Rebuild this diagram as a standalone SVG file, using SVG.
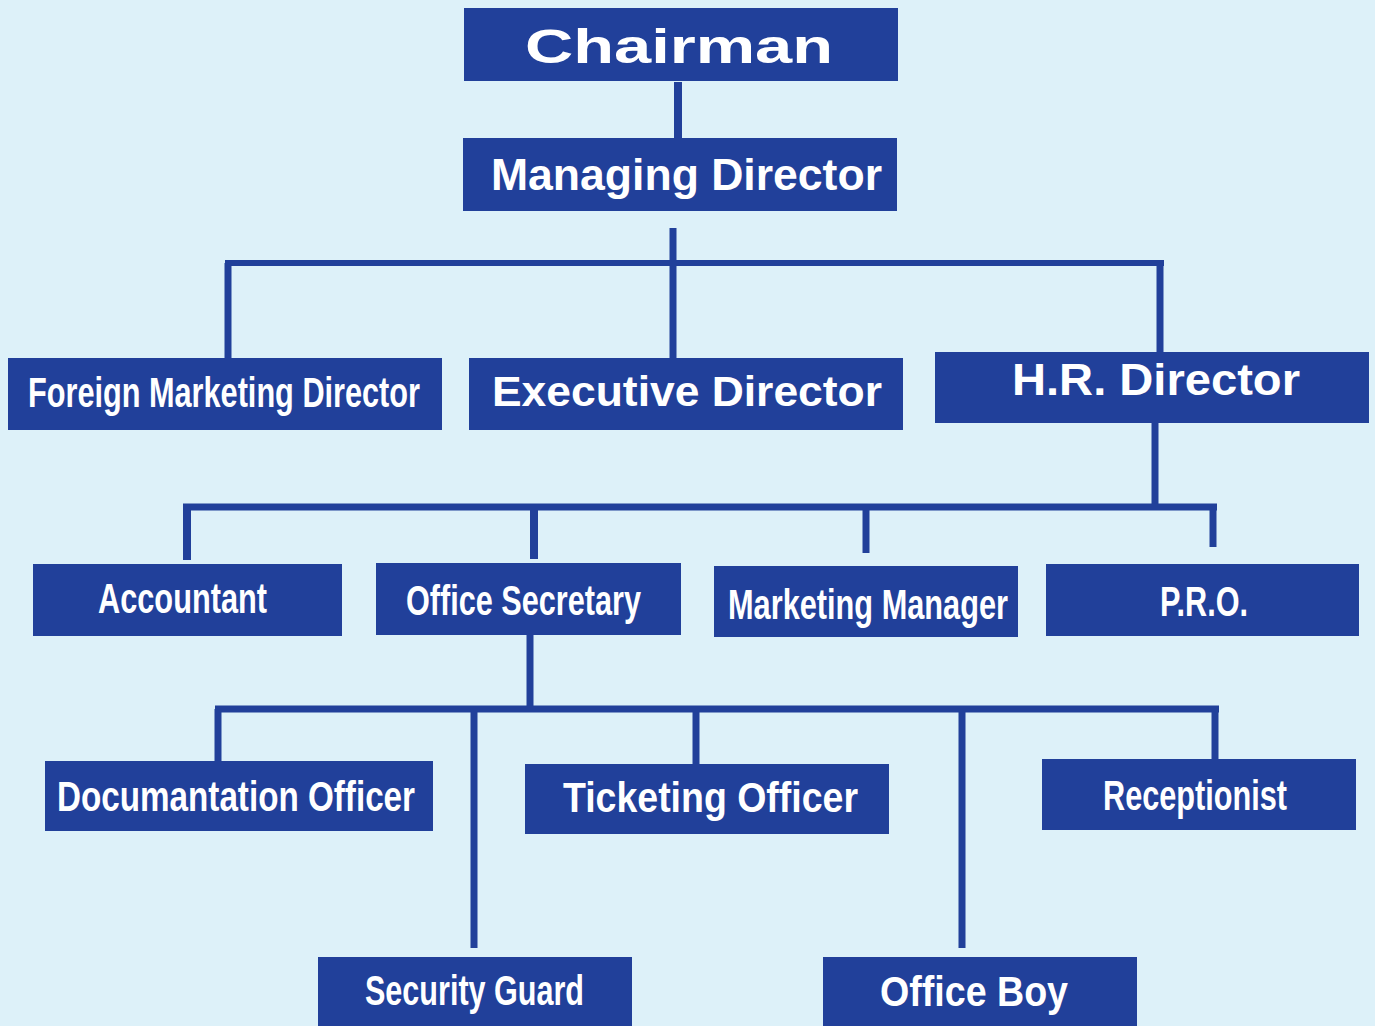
<svg xmlns="http://www.w3.org/2000/svg" width="1375" height="1026" viewBox="0 0 1375 1026">
<style>
.box{fill:#21409a}
.t{fill:#ffffff;font-family:"Liberation Sans",Arial,sans-serif;font-weight:bold}
.c{stroke:#21409a;fill:none;stroke-linecap:butt}
</style>
<rect x="0" y="0" width="1375" height="1026" fill="#ddf1f9"/>
<g id="connectors" class="c">
<line x1="678" y1="82" x2="678" y2="139" stroke-width="8"/>
<line x1="673" y1="228" x2="673" y2="358" stroke-width="7"/>
<line x1="225" y1="263" x2="1164" y2="263" stroke-width="6"/>
<line x1="228" y1="263" x2="228" y2="358" stroke-width="7"/>
<line x1="1160" y1="263" x2="1160" y2="352" stroke-width="7"/>
<line x1="1155" y1="423" x2="1155" y2="507" stroke-width="7"/>
<line x1="183" y1="507" x2="1217" y2="507" stroke-width="7"/>
<line x1="187" y1="507" x2="187" y2="560" stroke-width="8"/>
<line x1="534" y1="507" x2="534" y2="559" stroke-width="8"/>
<line x1="866" y1="507" x2="866" y2="553" stroke-width="7"/>
<line x1="1213" y1="507" x2="1213" y2="547" stroke-width="7"/>
<line x1="530" y1="635" x2="530" y2="709" stroke-width="7"/>
<line x1="215" y1="709" x2="1219" y2="709" stroke-width="7"/>
<line x1="218" y1="709" x2="218" y2="761" stroke-width="7"/>
<line x1="474" y1="709" x2="474" y2="948" stroke-width="7"/>
<line x1="696" y1="709" x2="696" y2="764" stroke-width="7"/>
<line x1="962" y1="709" x2="962" y2="948" stroke-width="7"/>
<line x1="1215" y1="709" x2="1215" y2="759" stroke-width="7"/>
</g>
<g id="chairman"><rect class="box" x="464" y="8" width="434" height="73"/><text class="t" x="525" y="63" font-size="48" textLength="308" lengthAdjust="spacingAndGlyphs">Chairman</text></g>
<g id="managing-director"><rect class="box" x="463" y="138" width="434" height="73"/><text class="t" x="491" y="190" font-size="44" textLength="391" lengthAdjust="spacingAndGlyphs">Managing Director</text></g>
<g id="foreign-marketing-director"><rect class="box" x="8" y="358" width="434" height="72"/><text class="t" x="0" y="0" transform="translate(28,407) scale(0.73,1)" font-size="42" textLength="537" lengthAdjust="spacingAndGlyphs">Foreign Marketing Director</text></g>
<g id="executive-director"><rect class="box" x="469" y="358" width="434" height="72"/><text class="t" x="492" y="406" font-size="43" textLength="390" lengthAdjust="spacingAndGlyphs">Executive Director</text></g>
<g id="hr-director"><rect class="box" x="935" y="352" width="434" height="71"/><text class="t" x="1012" y="395" font-size="44" textLength="288" lengthAdjust="spacingAndGlyphs">H.R. Director</text></g>
<g id="accountant"><rect class="box" x="33" y="564" width="309" height="72"/><text class="t" x="98" y="613" font-size="42" textLength="169" lengthAdjust="spacingAndGlyphs">Accountant</text></g>
<g id="office-secretary"><rect class="box" x="376" y="563" width="305" height="72"/><text class="t" x="406" y="615" font-size="42" textLength="235" lengthAdjust="spacingAndGlyphs">Office Secretary</text></g>
<g id="marketing-manager"><rect class="box" x="714" y="566" width="304" height="71"/><text class="t" x="728" y="619" font-size="42" textLength="280" lengthAdjust="spacingAndGlyphs">Marketing Manager</text></g>
<g id="pro"><rect class="box" x="1046" y="564" width="313" height="72"/><text class="t" x="1160" y="616" font-size="42" textLength="88" lengthAdjust="spacingAndGlyphs">P.R.O.</text></g>
<g id="documantation-officer"><rect class="box" x="45" y="761" width="388" height="70"/><text class="t" x="57" y="811" font-size="42" textLength="358" lengthAdjust="spacingAndGlyphs">Documantation Officer</text></g>
<g id="ticketing-officer"><rect class="box" x="525" y="764" width="364" height="70"/><text class="t" x="563" y="812" font-size="42" textLength="295" lengthAdjust="spacingAndGlyphs">Ticketing Officer</text></g>
<g id="receptionist"><rect class="box" x="1042" y="759" width="314" height="71"/><text class="t" x="1103" y="810" font-size="42" textLength="184" lengthAdjust="spacingAndGlyphs">Receptionist</text></g>
<g id="security-guard"><rect class="box" x="318" y="957" width="314" height="75"/><text class="t" x="365" y="1005" font-size="42" textLength="219" lengthAdjust="spacingAndGlyphs">Security Guard</text></g>
<g id="office-boy"><rect class="box" x="823" y="957" width="314" height="75"/><text class="t" x="880" y="1006" font-size="42" textLength="188" lengthAdjust="spacingAndGlyphs">Office Boy</text></g>
</svg>
